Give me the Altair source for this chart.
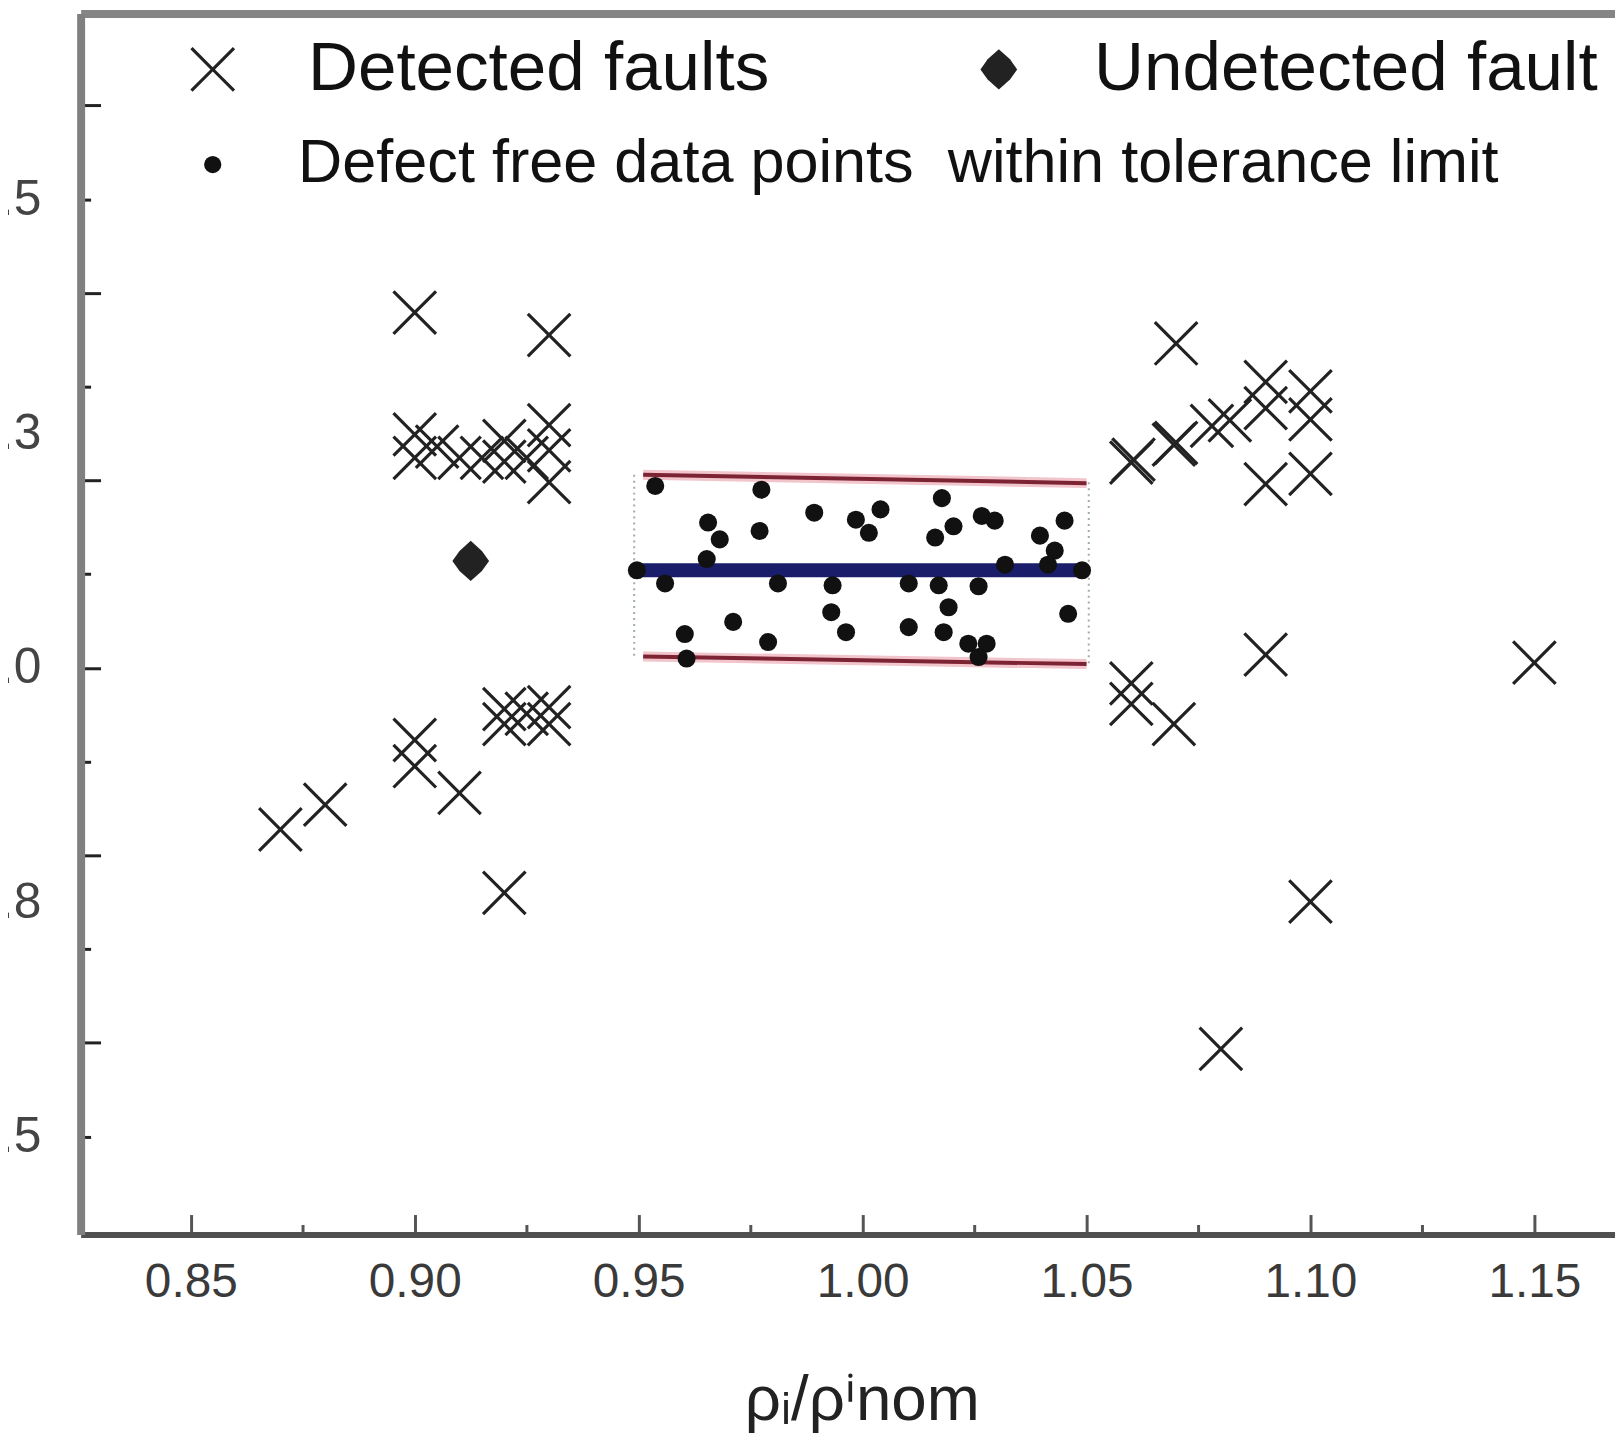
import altair as alt
import pandas as pd

# ---------------- data ----------------
DETECTED_X = [0.900, 0.930,
              0.900, 0.900, 0.905, 0.910, 0.915, 0.920, 0.920, 0.925, 0.930, 0.930, 0.930,
              0.870, 0.880, 0.900, 0.900, 0.910, 0.920, 0.920, 0.925, 0.930, 0.930, 0.920,
              1.070, 1.060, 1.0605, 1.0695, 1.0700, 1.078, 1.082, 1.090, 1.090, 1.100, 1.100,
              1.090, 1.100, 1.060, 1.060, 1.0695, 1.090, 1.100, 1.080, 1.150]
DETECTED_Y = [1.379, 1.355,
              1.249, 1.224, 1.236, 1.224, 1.224, 1.242, 1.220, 1.224, 1.259, 1.232, 1.198,
              0.8275, 0.854, 0.923, 0.895, 0.8665, 0.956, 0.940, 0.951, 0.958, 0.940, 0.760,
              1.346, 1.219, 1.222, 1.238, 1.240, 1.258, 1.264, 1.305, 1.277, 1.295, 1.265,
              1.196, 1.207, 0.9835, 0.9615, 0.940, 1.014, 0.7505, 0.5934, 1.0055]
UNDETECTED_X = [0.9125]
UNDETECTED_Y = [1.114]

DEFECT_FREE_X = [0.9537, 0.9774, 1.0177, 0.9892, 1.0040, 0.9985, 1.0014, 0.9655, 0.9681, 0.9770,
                 1.0203, 1.0162, 1.0266, 1.0295, 1.0396, 1.0451, 1.0429, 0.9711, 0.9603, 0.9607,
                 0.9789, 0.9930, 0.9963, 1.0103, 1.0181, 1.0192, 1.0236, 1.0277, 1.0259, 1.0459,
                 0.9496, 0.9559, 0.9652, 0.9811, 0.9933, 1.0103, 1.0170, 1.0259, 1.0318, 1.0414,
                 1.0490]
DEFECT_FREE_Y = [1.194, 1.190, 1.181, 1.1655, 1.169, 1.158, 1.144, 1.155, 1.137, 1.146,
                 1.151, 1.139, 1.162, 1.157, 1.141, 1.157, 1.125, 1.049, 1.036, 1.0099,
                 1.0275, 1.0593, 1.038, 1.0434, 1.038, 1.0646, 1.0257, 1.0257, 1.0115, 1.0576,
                 1.104, 1.090, 1.116, 1.090, 1.088, 1.090, 1.088, 1.087, 1.110, 1.110,
                 1.104]

CENTER_LINE_X = [0.950, 1.049]
CENTER_LINE_Y = [1.104, 1.104]
TOL_UPPER_X = [0.951, 1.050]
TOL_UPPER_Y = [1.206, 1.197]
TOL_LOWER_X = [0.951, 1.050]
TOL_LOWER_Y = [1.012, 1.004]
BOUND_X = [0.949, 1.0505]
BOUND_Y_TOP = [1.206, 1.198]
BOUND_Y_BOTTOM = [1.012, 1.004]

FAULT_LABELS = ["Detected faults", "Undetected fault"]
DEFECT_LABEL = "Defect free data points\u00a0 within tolerance limit"

X_LABEL_TICKS = [0.85, 0.90, 0.95, 1.00, 1.05, 1.10, 1.15]
X_MINOR_TICKS = [0.875, 0.925, 0.975, 1.025, 1.075, 1.125]
Y_LABEL_VALUES = [0.5, 0.75, 1.0, 1.25, 1.5]
Y_LABEL_TEXT = ["0.5", "0.8", "1.0", "1.3", "1.5"]
Y_MAJOR_TICKS = [0.6, 0.8, 1.0, 1.2, 1.4, 1.6]
Y_MINOR_TICKS = [0.5, 0.7, 0.9, 1.1, 1.3, 1.5]

X_DOMAIN = [0.8254, 1.168]
Y_DOMAIN = [0.3955, 1.698]

X_TITLE = "\u03c1\u1d62/\u03c1\u2071nom"

# ---------------- tables ----------------
faults = pd.DataFrame({
    "x": DETECTED_X + UNDETECTED_X,
    "y": DETECTED_Y + UNDETECTED_Y,
    "type": [FAULT_LABELS[0]] * len(DETECTED_X) + [FAULT_LABELS[1]] * len(UNDETECTED_X),
})
dots = pd.DataFrame({"x": DEFECT_FREE_X, "y": DEFECT_FREE_Y, "label": DEFECT_LABEL})
center = pd.DataFrame({"x": CENTER_LINE_X, "y": CENTER_LINE_Y})
tol = pd.DataFrame({
    "x": TOL_UPPER_X + TOL_LOWER_X,
    "y": TOL_UPPER_Y + TOL_LOWER_Y,
    "line": ["upper"] * len(TOL_UPPER_X) + ["lower"] * len(TOL_LOWER_X),
})
bounds = pd.DataFrame({"x": BOUND_X, "y": BOUND_Y_TOP, "y2": BOUND_Y_BOTTOM})

FONT = "Liberation Sans"
xs = alt.Scale(domain=X_DOMAIN, nice=False, zero=False)
ys = alt.Scale(domain=Y_DOMAIN, nice=False, zero=False)

X_PATH = ("M-1,-0.9L-0.9,-1L0,-0.1L0.9,-1L1,-0.9L0.1,0L1,0.9L0.9,1L0,0.1"
          "L-0.9,1L-1,0.9L-0.1,0Z")
DIAMOND_PATH = "M0,-0.9L0.5,-0.45L0.82,0L0.5,0.45L0,0.9L-0.5,0.45L-0.82,0L-0.5,-0.45Z"

label_expr = "".join(f"datum.value == {v} ? '{t}' : " for v, t in zip(Y_LABEL_VALUES, Y_LABEL_TEXT)) + "''"

# ---------------- axes ----------------
x_main = alt.Axis(orient="bottom", values=X_LABEL_TICKS, format=".2f", ticks=False, tickSize=0,
                  labelFont=FONT, labelFontSize=48, labelColor="#3a3a3a", labelPadding=24,
                  labelFlush=False, domain=True, domainColor="#505050", domainWidth=6,
                  grid=False, title=X_TITLE, titleFont=FONT, titleFontSize=64,
                  titleFontWeight="normal", titleColor="#222222", titleX=785, titleY=186,
                  titleBaseline="alphabetic", titleAlign="center")
x_major = alt.Axis(orient="bottom", values=X_LABEL_TICKS, labels=False, domain=False, grid=False,
                   ticks=True, tickSize=20, tickWidth=3, tickColor="#555555", offset=-20, title=None)
x_minor = alt.Axis(orient="bottom", values=X_MINOR_TICKS, labels=False, domain=False, grid=False,
                   ticks=True, tickSize=10, tickWidth=3, tickColor="#555555", offset=-10, title=None)
x_top = alt.Axis(orient="top", labels=False, ticks=False, tickSize=0, domain=True,
                 domainColor="#858585", domainWidth=8, grid=False, title=None)
y_main = alt.Axis(orient="left", values=Y_LABEL_VALUES, labelExpr=label_expr, ticks=False, tickSize=0,
                  labelFont=FONT, labelFontSize=50, labelColor="#444444", labelPadding=40,
                  labelFlush=False, domain=True, domainColor="#808080", domainWidth=8,
                  grid=False, title=None)
y_major = alt.Axis(orient="left", values=Y_MAJOR_TICKS, labels=False, domain=False, grid=False,
                   ticks=True, tickSize=20, tickWidth=3, tickColor="#222222", offset=-20, title=None)
y_minor = alt.Axis(orient="left", values=Y_MINOR_TICKS, labels=False, domain=False, grid=False,
                   ticks=True, tickSize=10, tickWidth=3, tickColor="#222222", offset=-10, title=None)

# ---------------- layers ----------------
halo = alt.Chart(tol).mark_line(color="#f2c4cb", strokeWidth=10).encode(
    x=alt.X("x:Q", scale=xs, axis=x_top),
    y=alt.Y("y:Q", scale=ys, axis=y_minor),
    detail="line:N",
)
tol_lines = alt.Chart(tol).mark_line(color="#7d2434", strokeWidth=4).encode(
    x=alt.X("x:Q", scale=xs, axis=x_major),
    y=alt.Y("y:Q", scale=ys, axis=y_major),
    detail="line:N",
)
bound_lines = alt.Chart(bounds).mark_rule(color="#9fb09f", strokeWidth=2, strokeDash=[2, 4]).encode(
    x=alt.X("x:Q", scale=xs, axis=x_minor),
    y=alt.Y("y:Q", scale=ys, axis=None),
    y2="y2:Q",
)
center_line = alt.Chart(center).mark_line(color="#1a1d6a", strokeWidth=14).encode(
    x=alt.X("x:Q", scale=xs, axis=None),
    y=alt.Y("y:Q", scale=ys, axis=None),
)
dot_layer = alt.Chart(dots).mark_circle(size=330, opacity=1).encode(
    x=alt.X("x:Q", scale=xs, axis=None),
    y=alt.Y("y:Q", scale=ys, axis=None),
    color=alt.Color("label:N", scale=alt.Scale(domain=[DEFECT_LABEL], range=["#111111"]),
                    legend=alt.Legend(title=None, orient="none", legendX=102, legendY=121,
                                      labelFont=FONT, labelFontSize=61.5, labelColor="#111111",
                                      labelOffset=55, labelLimit=3000, symbolType="circle",
                                      symbolSize=300, symbolFillColor="#111111",
                                      symbolStrokeWidth=0, padding=0)),
)
fault_layer = alt.Chart(faults).mark_point(filled=True, size=2025, opacity=1, color="#222222",
                                           strokeWidth=0).encode(
    x=alt.X("x:Q", scale=xs, axis=x_main),
    y=alt.Y("y:Q", scale=ys, axis=y_main),
    shape=alt.Shape("type:N", scale=alt.Scale(domain=FAULT_LABELS, range=[X_PATH, DIAMOND_PATH]),
                    legend=alt.Legend(title=None, orient="none", legendX=98, legendY=21,
                                      direction="horizontal", labelFont=FONT, labelFontSize=69.5,
                                      labelColor="#111111", labelOffset=61, columnPadding=195,
                                      labelLimit=3000, symbolSize=2025, symbolFillColor="#222222",
                                      symbolStrokeWidth=0, padding=0)),
)

chart = alt.layer(halo, tol_lines, bound_lines, center_line, dot_layer, fault_layer).resolve_axis(
    x="independent", y="independent"
).properties(
    width=1542, height=1227,
    autosize=alt.AutoSizeParams(type="none"),
    padding={"left": 73, "top": 2, "right": 0, "bottom": 200},
    background="white",
).configure(font=FONT).configure_view(stroke="transparent")

chart.save("out.html", embed_options={"renderer": "svg", "actions": False})
